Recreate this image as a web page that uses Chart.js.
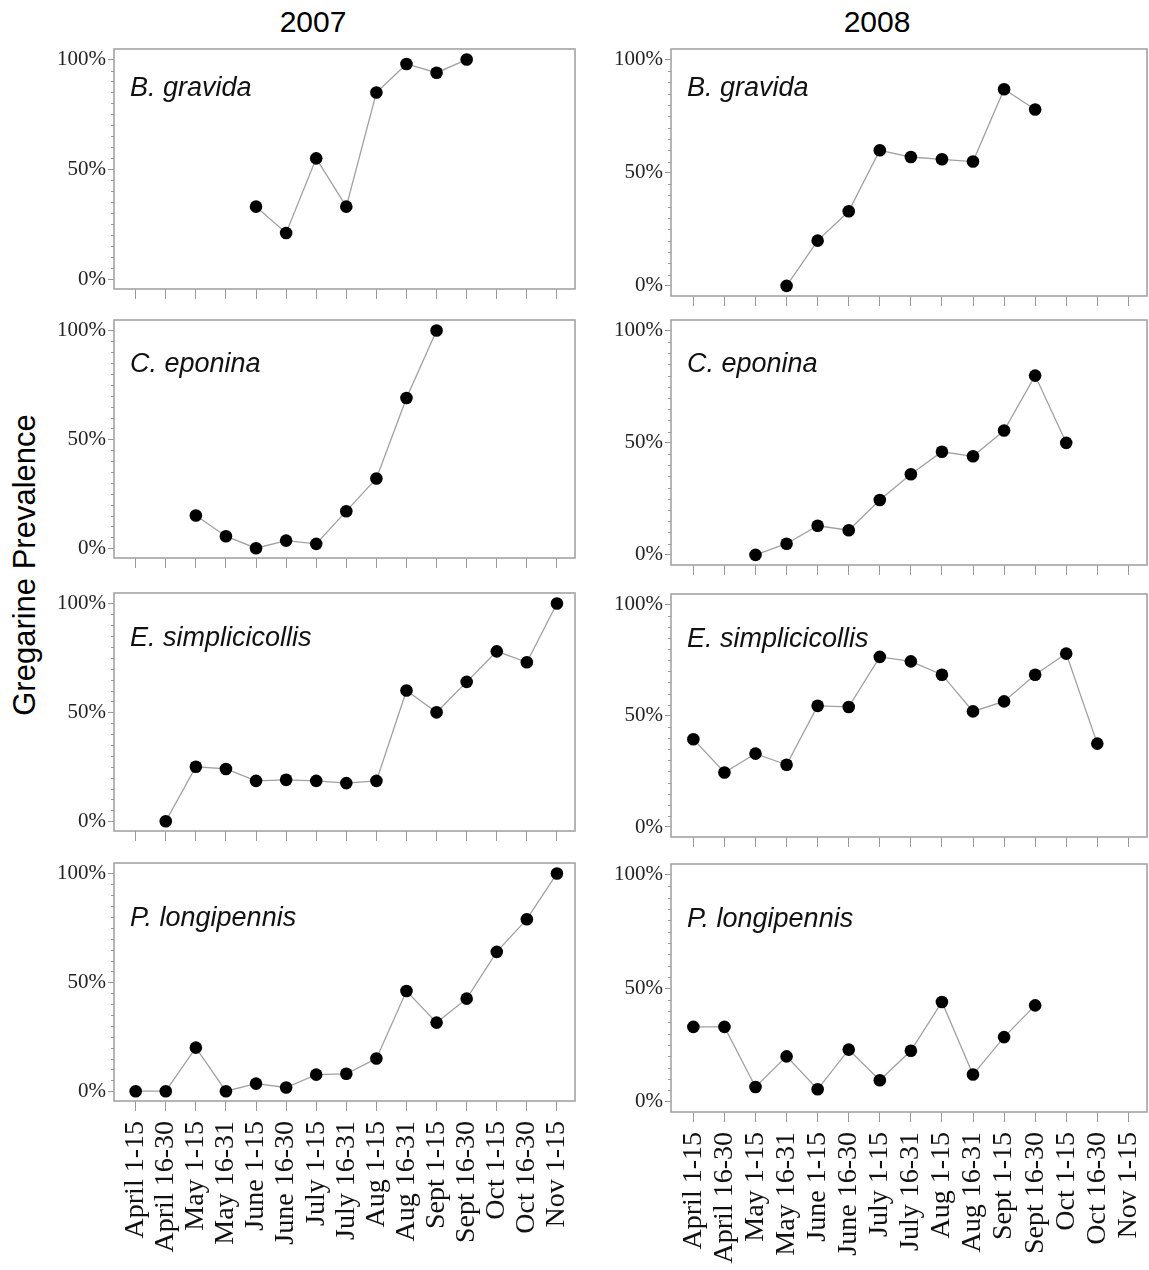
<!DOCTYPE html>
<html>
<head>
<meta charset="utf-8">
<script src="https://cdn.jsdelivr.net/npm/chart.js@4/dist/chart.umd.min.js"></script>
<style>
  html, body { margin: 0; padding: 0; background: #fff; overflow: hidden; }
  #page { position: relative; width: 1149px; height: 1270px; }
  canvas { position: absolute; }
  .year { position: absolute; font: 30px "Liberation Sans", Arial, sans-serif; color: #000; transform: translate(-50%, -50%); }
  .ytitle { position: absolute; font: 31px "Liberation Sans", Arial, sans-serif; color: #000; white-space: nowrap;
            transform: translate(-50%, -50%) rotate(-90deg); }
  .species { position: absolute; font: italic 27px "Liberation Sans", Arial, sans-serif; color: #111; line-height: 1;
             transform: translateY(-50%); white-space: nowrap; }
</style>
</head>
<body>
<div id="page"></div>
<script>
// sampling periods (x axis)
var periods = ['April 1-15', 'April 16-30', 'May 1-15', 'May 16-31', 'June 1-15', 'June 16-30',
               'July 1-15', 'July 16-31', 'Aug 1-15', 'Aug 16-31', 'Sept 1-15', 'Sept 16-30',
               'Oct 1-15', 'Oct 16-30', 'Nov 1-15']
var years = ['2007', '2008']
var species = ['B. gravida', 'C. eponina', 'E. simplicicollis', 'P. longipennis']
var yTicks = [0, 50, 100]

// prevalence in %, null = not sampled
var gravida2007 = [null, null, null, null, 33, 21, 55, 33, 85, 98, 94, 100, null, null, null]
var gravida2008 = [null, null, null, 0, 20, 33, 60, 57, 56, 55, 87, 78, null, null, null]
var eponina2007 = [null, null, 15, 5.5, 0, 3.5, 2, 17, 32, 69, 100, null, null, null, null]
var eponina2008 = [null, null, 0, 5, 13, 11, 24.5, 36, 46, 44, 55.5, 80, 50, null, null]
var simplicicollis2007 = [null, 0, 25, 24, 18.5, 19, 18.5, 17.5, 18.5, 60, 50, 64, 78, 73, 100]
var simplicicollis2008 = [39.5, 24.5, 33, 28, 54.5, 54, 76.5, 74.5, 68.5, 52, 56.5, 68.5, 78, 37.5, null]
var longipennis2007 = [0, 0, 20, 0, 3.5, 1.7, 7.6, 8, 15, 46, 31.5, 42.5, 64, 79, 100]
var longipennis2008 = [33, 33, 6.5, 20, 5.5, 23, 9.5, 22.5, 44, 12, 28.5, 42.5, null, null, null]

var series = [
    [gravida2007, gravida2008],
    [eponina2007, eponina2008],
    [simplicicollis2007, simplicicollis2008],
    [longipennis2007, longipennis2008]
]

// panel boxes
var colLeft = [114, 671]
var colRight = [575, 1147]
var boxTop = [[49, 320, 593, 863], [49, 320, 594, 864]]
var boxBottom = [[289, 558, 831, 1101], [296, 565, 837, 1112]]
var nameOffset = [38, 43, 44, 54]
var yearX = [313, 877]

var Y_AXIS_W = 66
var PAD_TOP = 6
var PAD_RIGHT = 2
var page = document.getElementById('page')

function addDiv(cls, text, left, top) {
    var d = document.createElement('div')
    d.className = cls
    d.textContent = text
    d.style.left = left + 'px'
    d.style.top = top + 'px'
    page.appendChild(d)
    return d
}

// grey frame round the plot + minor y ticks every 5%
var framePlugin = {
    id: 'frame',
    afterDraw: function (chart) {
        var a = chart.chartArea
        var ctx = chart.ctx
        var y = chart.scales.y
        ctx.save()
        ctx.strokeStyle = '#a3a3a3'
        ctx.lineWidth = 1.6
        ctx.strokeRect(a.left, a.top, a.right - a.left, a.bottom - a.top)
        ctx.strokeStyle = '#999'
        ctx.lineWidth = 1
        for (var v = 5; v < 100; v += 5) {
            if (v % 50 === 0) continue
            var py = Math.round(y.getPixelForValue(v)) + 0.5
            ctx.beginPath()
            ctx.moveTo(a.left - 3, py)
            ctx.lineTo(a.left, py)
            ctx.stroke()
        }
        ctx.restore()
    }
}

function makePanel(row, col) {
    var values = series[row][col]
    var last = row === species.length - 1
    var top = boxTop[col][row]
    var bottom = boxBottom[col][row]
    var xAxisH = last ? 1270 - bottom : 14

    var canvas = document.createElement('canvas')
    var w = colRight[col] - colLeft[col] + Y_AXIS_W + PAD_RIGHT
    var h = bottom - top + PAD_TOP + xAxisH
    canvas.width = w
    canvas.height = h
    canvas.style.width = w + 'px'
    canvas.style.height = h + 'px'
    canvas.style.left = (colLeft[col] - Y_AXIS_W) + 'px'
    canvas.style.top = (top - PAD_TOP) + 'px'
    page.appendChild(canvas)

    var points = []
    values.forEach(function (v, i) {
        if (v !== null) points.push({ x: i, y: v })
    })

    new Chart(canvas, {
        type: 'line',
        data: {
            datasets: [{
                data: points,
                borderColor: '#a0a0a0',
                borderWidth: 1.3,
                pointRadius: 6.3,
                pointBackgroundColor: '#000',
                pointBorderColor: '#000',
                pointBorderWidth: 0,
                tension: 0,
                clip: false
            }]
        },
        options: {
            responsive: false,
            animation: false,
            devicePixelRatio: 1,
            layout: { autoPadding: false, padding: { top: PAD_TOP, right: PAD_RIGHT, left: 0, bottom: 0 } },
            plugins: { legend: { display: false }, tooltip: { enabled: false } },
            scales: {
                x: {
                    type: 'linear',
                    min: -0.72,
                    max: 14.6,
                    border: { display: false },
                    grid: { drawOnChartArea: false, drawTicks: true, tickLength: 10, color: '#999', lineWidth: 1 },
                    afterBuildTicks: function (s) {
                        s.ticks = periods.map(function (p, i) { return { value: i } })
                    },
                    afterFit: function (s) {
                        s.height = xAxisH
                        s.paddingLeft = 0
                        s.paddingRight = 0
                    },
                    ticks: {
                        autoSkip: false,
                        minRotation: 90,
                        maxRotation: 90,
                        padding: 10,
                        color: '#111',
                        font: { family: 'Liberation Serif', size: 28 },
                        callback: function (v) { return last ? periods[v] : '' }
                    }
                },
                y: {
                    min: -4.5,
                    max: 104.8,
                    border: { display: false },
                    grid: { drawOnChartArea: false, drawTicks: true, tickLength: 6, color: '#999', lineWidth: 1 },
                    afterBuildTicks: function (s) {
                        s.ticks = yTicks.map(function (v) { return { value: v } })
                    },
                    afterFit: function (s) {
                        s.width = Y_AXIS_W
                        s.paddingTop = 0
                        s.paddingBottom = 0
                    },
                    ticks: {
                        padding: 2,
                        color: '#222',
                        font: { family: 'Liberation Serif', size: 21 },
                        callback: function (v) { return v + '%' }
                    }
                }
            }
        },
        plugins: [framePlugin]
    })

    addDiv('species', species[row], colLeft[col] + 16, top + nameOffset[row])
}

years.forEach(function (y, col) {
    addDiv('year', y, yearX[col], 22)
    species.forEach(function (s, row) { makePanel(row, col) })
})
addDiv('ytitle', 'Gregarine Prevalence', 25, 565)
</script>
</body>
</html>
